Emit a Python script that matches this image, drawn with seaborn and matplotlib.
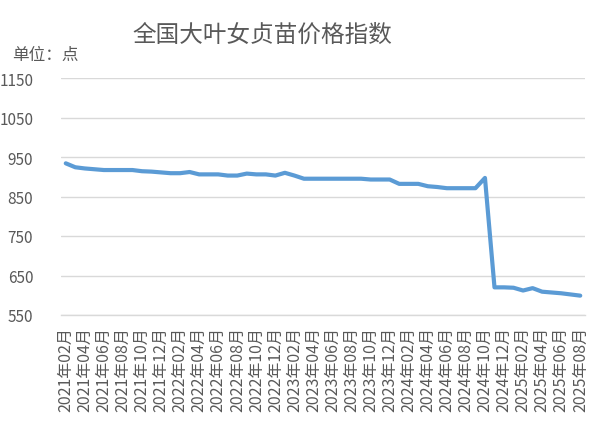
import matplotlib
matplotlib.use("Agg")
import matplotlib.pyplot as plt
import seaborn as sns
import pandas as pd
from matplotlib.ticker import FixedLocator

months = [f"{y}年{m:02d}月" for y in range(2021, 2026) for m in range(1, 13)
          if (y, m) >= (2021, 2) and (y, m) <= (2025, 8)]
values = [934, 924, 921, 919, 917, 917, 917, 917, 914, 913, 911, 909, 909, 912,
          906, 906, 906, 903, 903, 908, 906, 906, 903, 910, 903,
          895, 895, 895, 895, 895, 895, 895, 893, 893, 893, 882, 882, 882,
          876, 874, 871, 871, 871, 871, 897,
          620, 620, 619, 612, 618, 609, 607, 605, 602, 599]
y_ticks = [550, 650, 750, 850, 950, 1050, 1150]
title = "全国大叶女贞苗价格指数"
unit = "单位：点"

sns.set_theme(style="white")
plt.rcParams['font.family'] = ['Noto Sans CJK SC', 'DejaVu Sans']

df = pd.DataFrame({"month": months, "value": values, "idx": range(len(months))})

fig = plt.figure(figsize=(6.04, 4.31), dpi=100)
ax = fig.add_axes([61/604, 1 - 316/431, (585 - 61)/604, (316 - 79)/431])

sns.lineplot(data=df, x="idx", y="value", ax=ax, color="#5b9bd5", linewidth=3.0)

ax.set_xlim(-0.5, len(months) - 0.5)
ax.set_ylim(550, 1150)
ax.set_yticks(y_ticks)
ax.set_yticklabels([str(v) for v in y_ticks])
ax.yaxis.grid(True, color="#d9d9d9", linewidth=1)
ax.xaxis.grid(False)
for s in ["left", "right", "top"]:
    ax.spines[s].set_visible(False)
ax.spines["bottom"].set_color("#d9d9d9")
ax.spines["bottom"].set_linewidth(1)

label_pos = list(range(0, len(months), 2))
ax.set_xticks(label_pos)
ax.set_xticklabels([months[i] for i in label_pos], rotation=90, fontsize=11.5,
                   color="#595959", va="top", ha="center")
ax.tick_params(axis="x", which="major", length=0, pad=8)
ax.xaxis.set_minor_locator(FixedLocator([i - 0.5 for i in label_pos] + [len(months) - 0.5]))
ax.tick_params(axis="x", which="minor", length=5, color="#bfbfbf", width=1, direction="out")
ax.tick_params(axis="y", length=0, labelsize=11, labelcolor="#595959", pad=20)
ax.set_xlabel("")
ax.set_ylabel("")

fig.text(262/604, 1 - 35/431, title, ha="center", va="center", fontsize=17, color="#595959")
fig.text(12/604, 1 - 55/431, unit, ha="left", va="center", fontsize=12, color="#595959")

fig.savefig("out.png", dpi=100)
